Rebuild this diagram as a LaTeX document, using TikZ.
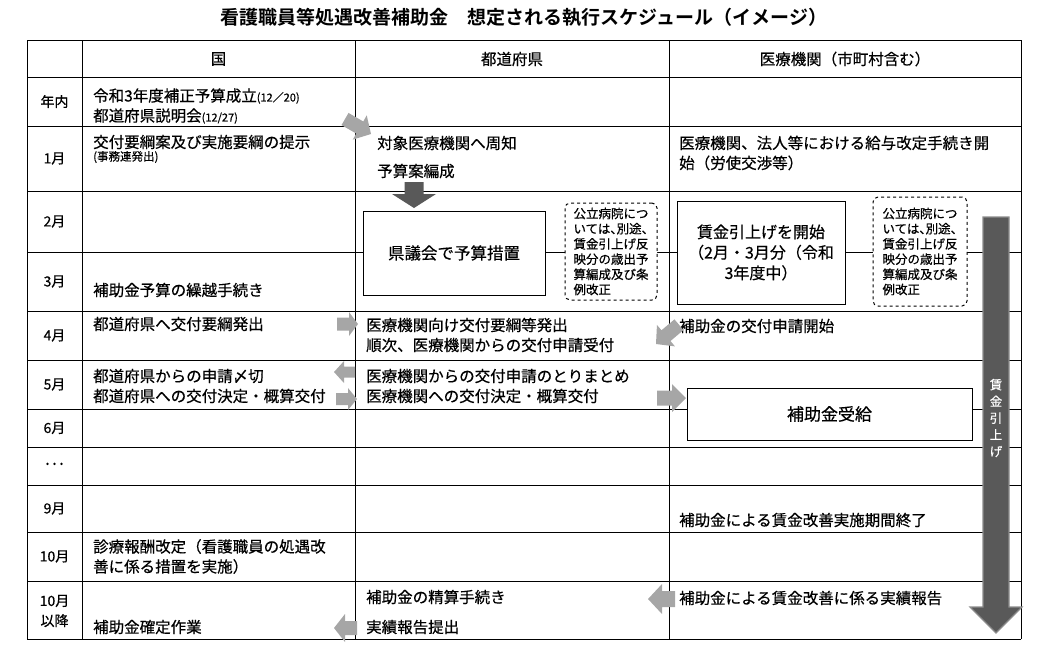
\documentclass[tikz,border=0pt]{standalone}
\usepackage{fontspec}
\setmainfont{Noto Sans CJK JP}[BoldFont={Noto Sans CJK JP Bold}, UprightFeatures={FakeBold=0.5}]
\newfontfamily\notefont[RawFeature=+halt, FakeBold=0.5]{Noto Sans CJK JP}

\definecolor{arrowgray}{HTML}{A6A6A6}
\definecolor{arrowdark}{HTML}{595959}
\definecolor{arrowedge}{HTML}{8C8C8C}

\newcommand{\fsz}[2]{\fontsize{#1}{#2}\selectfont}

% tip, angle, style, length, head width, shaft width, head length
\newcommand{\blockarrow}[7]{%
  \begin{scope}[shift={#1}, rotate=#2]
    \fill[#3] (0,0) -- (-#7,#5*0.5) -- (-#7,#6*0.5) -- (-#4,#6*0.5)
      -- (-#4,-#6*0.5) -- (-#7,-#6*0.5) -- (-#7,-#5*0.5) -- cycle;
  \end{scope}}

\tikzset{
  cell/.style={anchor=west, inner sep=0pt, align=left, font=\fsz{15.5}{20}},
  month/.style={inner sep=0pt, align=center, font=\fsz{14}{20}},
  head/.style={inner sep=0pt, font=\fsz{15.5}{20}},
  stepbox/.style={draw, line width=1pt, fill=white, align=center},
  notebox/.style={draw, dashed, line width=1pt, rounded corners=5pt, fill=white,
    align=left, font=\notefont\fsz{12.5}{15.2}},
}

\begin{document}
\begin{tikzpicture}[x=1pt, y=-1pt]
  \useasboundingbox (0,0) rectangle (1047,649);

  \node[font=\bfseries\fsz{19}{20}] (title) at (524,17)
    {看護職員等処遇改善補助金　想定される執行スケジュール（イメージ）};

  \foreach \y in {40,77,126,191,252,311,360,409,447,485,532,581,639}
    \draw[line width=0.9pt] (27,\y) -- (1021,\y);
  \foreach \x in {27,82,355,669,1021}
    \draw[line width=0.9pt] (\x,40) -- (\x,639);

  \node[head] (hkuni) at (218.5,59) {国};
  \node[head] (hken) at (512,59) {都道府県};
  \node[head] (hiryo) at (845,59) {医療機関（市町村含む）};

  \foreach \y/\m [count=\i] in {101.5/年内, 158.5/1月, 221.5/2月, 281.5/3月,
      335.5/4月, 384.5/5月, 428/6月, 466/･･･, 508.5/9月, 556.5/10月}
    \node[month] (month\i) at (54.5,\y) {\m};
  \node[month] (month11) at (54.5,611) {10月\\以降};

  \node[cell] (kuni0) at (93,106)
    {令和3年度補正予算成立{\fsz{11}{20}(12／20)}\\都道府県説明会{\fsz{11}{20}(12/27)}};
  \node[cell] (kuni1) at (93,142) {交付要綱案及び実施要綱の提示};
  \node[cell, font=\fsz{11.5}{12}] (kuni1b) at (93,157) {(事務連発出)};
  \node[cell] (kuni3) at (93,290) {補助金予算の繰越手続き};
  \node[cell] (kuni4) at (93,324) {都道府県へ交付要綱発出};
  \node[cell] (kuni5) at (93,386) {都道府県からの申請〆切\\都道府県への交付決定・概算交付};
  \node[cell] (kuni10) at (93,556.5) {診療報酬改定（看護職員の処遇改\\善に係る措置を実施）};
  \node[cell] (kuni11) at (93,627) {補助金確定作業};

  \node[cell] (ken1a) at (377,143) {対象医療機関へ周知};
  \node[cell] (ken1b) at (377,171) {予算案編成};
  \node[stepbox, minimum width=182pt, minimum height=84pt, font=\fsz{16.5}{20}]
    (kengikai) at (454,253) {県議会で予算措置};
  \node[notebox, minimum width=92pt, minimum height=97pt] (kennote) at (611,251.5)
    {公立病院につ\\いては、別途、\\賃金引上げ反\\映分の歳出予\\算編成及び条\\例改正};
  \node[cell] (ken4) at (366,335) {医療機関向け交付要綱等発出\\順次、医療機関からの交付申請受付};
  \node[cell] (ken5) at (366,386) {医療機関からの交付申請のとりまとめ\\医療機関への交付決定・概算交付};
  \node[cell] (ken11a) at (366,597) {補助金の精算手続き};
  \node[cell] (ken11b) at (366,627) {実績報告提出};

  \node[cell] (iryo1) at (679,153) {医療機関、法人等における給与改定手続き開\\始（労使交渉等）};
  \node[stepbox, minimum width=168pt, minimum height=103pt, font=\fsz{16}{20.5}]
    (chingin) at (761,252.5) {賃金引上げを開始\\（2月・3月分（令和\\3年度中）};
  \node[notebox, minimum width=94pt, minimum height=109pt] (iryonote) at (920,251.5)
    {公立病院につ\\いては、別途、\\賃金引上げ反\\映分の歳出予\\算編成及び条\\例改正};
  \node[cell] (iryo4) at (679,326) {補助金の交付申請開始};
  \node[stepbox, minimum width=285pt, minimum height=52pt, font=\fsz{17}{20}]
    (jukyu) at (829.5,414) {補助金受給};
  \node[cell] (iryo9) at (679,520) {補助金による賃金改善実施期間終了};
  \node[cell] (iryo11) at (679,598) {補助金による賃金改善に係る実績報告};

  \blockarrow{(371,134)}{-30}{arrowgray}{30}{28}{14}{13}
  \blockarrow{(414,208)}{-90}{arrowdark}{26}{44}{19}{14}
  \blockarrow{(358,324)}{0}{arrowgray}{21}{24}{13}{9}
  \blockarrow{(656,344)}{-140}{arrowgray}{30}{28}{14}{13}
  \blockarrow{(334,372)}{180}{arrowgray}{21}{22}{11}{10}
  \blockarrow{(357,399)}{0}{arrowgray}{21}{22}{12}{9}
  \blockarrow{(686,398)}{0}{arrowgray}{29}{28}{15}{14}
  \blockarrow{(648,599)}{180}{arrowgray}{27}{30}{16}{14}
  \blockarrow{(334,628)}{180}{arrowgray}{23}{28}{14}{11}

  \blockarrow{(996,633)}{-90}{fill=arrowdark, draw=arrowedge, line width=1.2pt}{416}{52}{26}{26}
  \node[inner sep=0pt, align=center, text=white, font=\fsz{12.5}{16.7}]
    (chinginage) at (996,418) {賃\\金\\引\\上\\げ};
\end{tikzpicture}
\end{document}
